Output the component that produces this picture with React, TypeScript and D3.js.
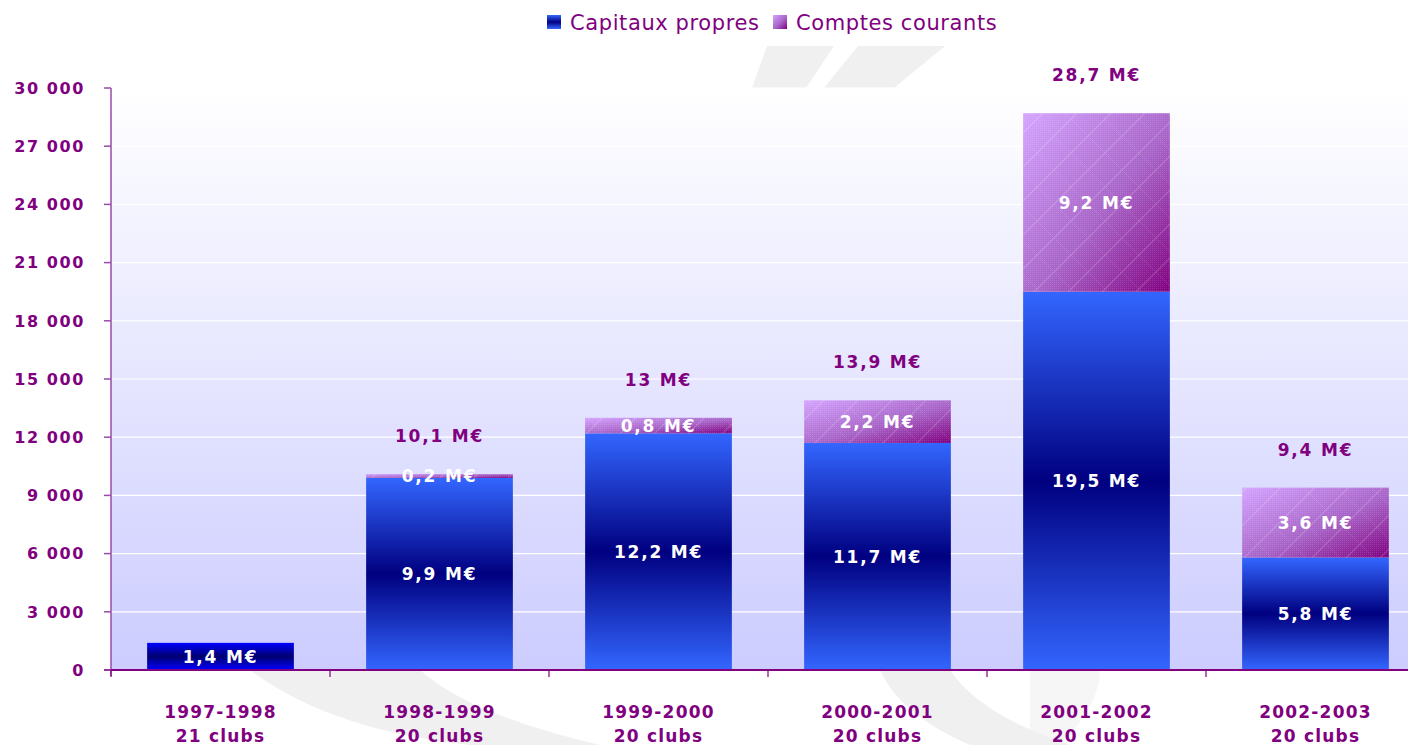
import React from "react";
import * as d3 from "d3";

const categories = ["1997-1998", "1998-1999", "1999-2000", "2000-2001", "2001-2002", "2002-2003"];
const clubs = ["21 clubs", "20 clubs", "20 clubs", "20 clubs", "20 clubs", "20 clubs"];
const capitaux = [1400, 9900, 12200, 11700, 19500, 5800];
const comptes = [0, 200, 800, 2200, 9200, 3600];
const capitauxLabels = ["1,4 M€", "9,9 M€", "12,2 M€", "11,7 M€", "19,5 M€", "5,8 M€"];
const comptesLabels = ["", "0,2 M€", "0,8 M€", "2,2 M€", "9,2 M€", "3,6 M€"];
const totalLabels = ["", "10,1 M€", "13 M€", "13,9 M€", "28,7 M€", "9,4 M€"];
const yTicks = [0, 3000, 6000, 9000, 12000, 15000, 18000, 21000, 24000, 27000, 30000];
const seriesNames = ["Capitaux propres", "Comptes courants"];

const W = 1408;
const H = 745;
const left = 111;
const top = 88;
const bottom = 670;
const bandW = 219;
const PURPLE = "#800080";
const FONT = "'Comic Sans MS', 'DejaVu Sans', sans-serif";

export default function App() {
  const x = d3
    .scaleBand<string>()
    .domain(categories)
    .range([left, left + bandW * categories.length])
    .paddingInner(0.33)
    .paddingOuter(0.165);
  const y = d3.scaleLinear().domain([0, 30000]).range([bottom, top]);
  const fmt = (v: number) => d3.format(",")(v).replace(/,/g, " ");
  const boundaries = d3.range(categories.length + 1).map((i) => left + i * bandW);

  return (
    <svg width={W} height={H} style={{ position: "absolute", left: 0, top: 0, background: "#fff" }}>
      <defs>
        <linearGradient id="plotBg" x1="0" y1="0" x2="0" y2="1">
          <stop offset="0" stopColor="#ffffff" />
          <stop offset="1" stopColor="#ccccff" />
        </linearGradient>
        <linearGradient id="blueG" x1="0" y1="0" x2="0" y2="1">
          <stop offset="0" stopColor="#3366ff" />
          <stop offset="0.5" stopColor="#000080" />
          <stop offset="1" stopColor="#3366ff" />
        </linearGradient>
        <linearGradient id="blueG0" x1="0" y1="0" x2="0" y2="1">
          <stop offset="0" stopColor="#0000ff" />
          <stop offset="0.5" stopColor="#000070" />
          <stop offset="1" stopColor="#0000ff" />
        </linearGradient>
        <linearGradient id="purpG" x1="0" y1="0" x2="1" y2="1">
          <stop offset="0" stopColor="#d4a4ff" />
          <stop offset="0.55" stopColor="#a864c8" />
          <stop offset="1" stopColor="#800080" />
        </linearGradient>
        <pattern id="hatch" width="34" height="34" patternUnits="userSpaceOnUse">
          <path d="M0,34 L34,0" stroke="#ffffff" strokeOpacity="0.18" strokeWidth="1.2" />
          <path d="M0,0 L34,34" stroke="#ffffff" strokeOpacity="0.08" strokeWidth="1" />
        </pattern>
        <pattern id="dots" width="2" height="2" patternUnits="userSpaceOnUse">
          <rect width="1" height="1" fill="#ffffff" fillOpacity="0.12" />
        </pattern>
      </defs>

      {/* watermark */}
      <g fill="#f0f0f0">
        <path d="M767,46 L834,46 L806,88 L752,88 Z" />
        <path d="M858,46 L945,46 L894,88 L824,88 Z" />
        <path d="M250,670 Q330,730 470,745 L600,745 Q470,715 420,670 Z" />
        <path d="M880,670 L950,670 Q980,715 1070,745 L970,745 Q900,715 880,670 Z" />
        <path d="M1030,670 L1100,670 Q1100,705 1060,745 L1030,745 Z" opacity="0.6" />
      </g>

      {/* plot area */}
      <rect x={left} y={top} width={W - left} height={bottom - top} fill="url(#plotBg)" />
      {yTicks.slice(1).map((t) => (
        <line key={t} x1={left} x2={W} y1={y(t)} y2={y(t)} stroke="#ffffff" strokeWidth={1.2} />
      ))}

      {/* bars */}
      {categories.map((c, i) => {
        const bx = x(c)!;
        const bw = x.bandwidth();
        const y0 = y(0);
        const y1 = y(capitaux[i]);
        const y2 = y(capitaux[i] + comptes[i]);
        return (
          <g key={c}>
            <rect x={bx} y={y1} width={bw} height={y0 - y1} fill={i === 0 ? "url(#blueG0)" : "url(#blueG)"} />
            {comptes[i] > 0 && (
              <g>
                <rect x={bx} y={y2} width={bw} height={y1 - y2} fill="url(#purpG)" />
                <rect x={bx} y={y2} width={bw} height={y1 - y2} fill="url(#hatch)" />
                <rect x={bx} y={y2} width={bw} height={y1 - y2} fill="url(#dots)" />
              </g>
            )}
          </g>
        );
      })}

      {/* axes */}
      <line x1={left} x2={left} y1={top} y2={bottom + 6} stroke="#9a4aa8" strokeWidth={1.5} />
      <line x1={left - 7} x2={W} y1={bottom} y2={bottom} stroke={PURPLE} strokeWidth={2} />
      {yTicks.map((t) => (
        <g key={t}>
          <line x1={left - 7} x2={left} y1={y(t)} y2={y(t)} stroke="#9a4aa8" strokeWidth={1.5} />
          <text
            x={85}
            y={y(t)}
            dy="0.36em"
            textAnchor="end"
            fontFamily={FONT}
            fontWeight="bold"
            fontSize={16}
            letterSpacing={1.6}
            fill={PURPLE}
          >
            {fmt(t)}
          </text>
        </g>
      ))}
      {boundaries.map((b, i) => (
        <line key={i} x1={b} x2={b} y1={bottom} y2={bottom + 7} stroke={PURPLE} strokeWidth={1.2} />
      ))}

      {/* category labels */}
      {categories.map((c, i) => {
        const cx = x(c)! + x.bandwidth() / 2;
        return (
          <g key={c} fontFamily={FONT} fontWeight="bold" fontSize={17} fill={PURPLE} textAnchor="middle" letterSpacing={1.2}>
            <text x={cx} y={718}>{c}</text>
            <text x={cx} y={742}>{clubs[i]}</text>
          </g>
        );
      })}

      {/* value labels */}
      {categories.map((c, i) => {
        const cx = x(c)! + x.bandwidth() / 2;
        const y1 = y(capitaux[i]);
        const y2 = y(capitaux[i] + comptes[i]);
        return (
          <g key={c} fontFamily={FONT} fontWeight="bold" fontSize={17} textAnchor="middle" letterSpacing={1.8}>
            <text x={cx} y={(y(0) + y1) / 2} dy="0.36em" fill="#ffffff">{capitauxLabels[i]}</text>
            {comptes[i] > 0 && (
              <text x={cx} y={(y1 + y2) / 2} dy="0.36em" fill="#ffffff">{comptesLabels[i]}</text>
            )}
            {totalLabels[i] && (
              <text x={cx} y={y2 - 38} dy="0.36em" fill={PURPLE}>{totalLabels[i]}</text>
            )}
          </g>
        );
      })}

      {/* legend */}
      <g fontFamily={FONT} fontSize={21} fill={PURPLE} letterSpacing={0.6}>
        <rect x={547} y={15} width={14} height={14} fill="url(#blueG)" />
        <text x={570} y={30}>{seriesNames[0]}</text>
        <rect x={773} y={15} width={14} height={14} fill="url(#purpG)" />
        <text x={796} y={30}>{seriesNames[1]}</text>
      </g>
    </svg>
  );
}
